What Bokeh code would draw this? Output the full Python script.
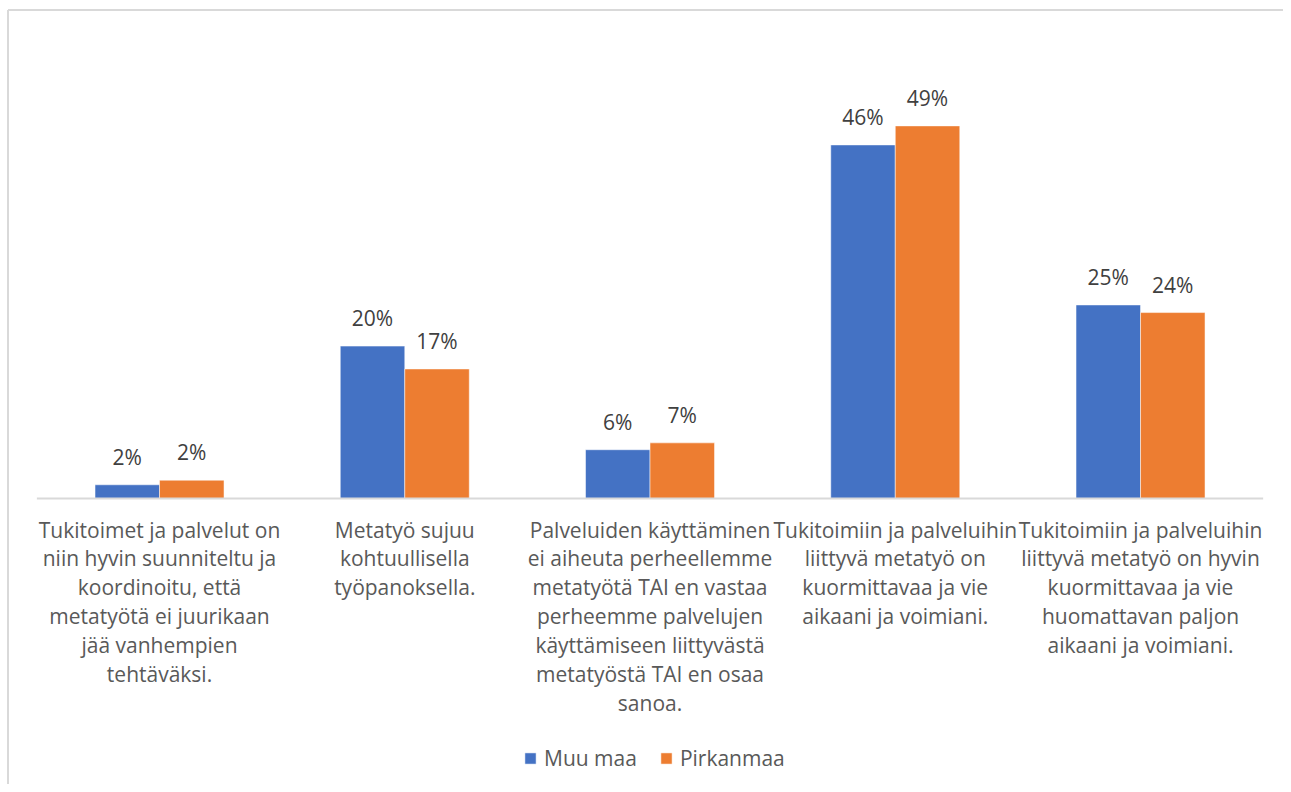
import numpy as np
from bokeh.plotting import figure
from bokeh.models import ColumnDataSource, Range1d, Legend, LegendItem
from bokeh.core.properties import value
from bokeh.embed import file_html
from bokeh.resources import INLINE

categories = [
    "Tukitoimet ja palvelut on\nniin hyvin suunniteltu ja\nkoordinoitu, että\nmetatyötä ei juurikaan\njää vanhempien\ntehtäväksi.",
    "Metatyö sujuu\nkohtuullisella\ntyöpanoksella.",
    "Palveluiden käyttäminen\nei aiheuta perheellemme\nmetatyötä TAI en vastaa\nperheemme palvelujen\nkäyttämiseen liittyvästä\nmetatyöstä TAI en osaa\nsanoa.",
    "Tukitoimiin ja palveluihin\nliittyvä metatyö on\nkuormittavaa ja vie\naikaani ja voimiani.",
    "Tukitoimiin ja palveluihin\nliittyvä metatyö on hyvin\nkuormittavaa ja vie\nhuomattavan paljon\naikaani ja voimiani.",
]
series_names = ["Muu maa", "Pirkanmaa"]
muu_maa = [1.8, 20.0, 6.4, 46.4, 25.4]
pirkanmaa = [2.4, 17.0, 7.3, 48.9, 24.4]

BLUE = "#4472C4"
ORANGE = "#ED7D31"
W, H = 1283, 784
CAT_PX = 245.25        # pixel width of one category
LEFT_PX = 36.4         # pixel offset of first category
PX_PER_PCT = 7.62
BASE_PX = 498          # baseline from top

FONT = "Open Sans"

xr = Range1d(-LEFT_PX / CAT_PX, (W - LEFT_PX) / CAT_PX)
yr = Range1d(-(H - BASE_PX) / PX_PER_PCT, BASE_PX / PX_PER_PCT)

p = figure(width=W, height=H, x_range=xr, y_range=yr, output_backend="svg",
           toolbar_location=None, min_border=0, outline_line_color=None,
           background_fill_color="white", border_fill_color="white")
p.xaxis.visible = False
p.yaxis.visible = False
p.xgrid.visible = False
p.ygrid.visible = False

idx = np.arange(len(categories))
bar_w = 64.5 / CAT_PX
off = bar_w / 2

src = ColumnDataSource(dict(
    xc=idx + 0.5,
    xb=idx + 0.5 - off,
    xo=idx + 0.5 + off,
    muu=muu_maa,
    pirk=pirkanmaa,
    muu_lbl=[f"{round(v)}%" for v in muu_maa],
    pirk_lbl=[f"{round(v)}%" for v in pirkanmaa],
    cat=categories,
))

r1 = p.vbar(x="xb", top="muu", width=bar_w, bottom=0, source=src,
            fill_color=BLUE, line_color="white", line_width=0.5)
r2 = p.vbar(x="xo", top="pirk", width=bar_w, bottom=0, source=src,
            fill_color=ORANGE, line_color="white", line_width=0.5)

# baseline (category axis line)
p.segment(x0=[0], x1=[len(categories)], y0=[0], y1=[0], line_color="#d9d9d9", line_width=2)

# data labels
for xcol, ycol, lcol in (("xb", "muu", "muu_lbl"), ("xo", "pirk", "pirk_lbl")):
    p.text(x=xcol, y=ycol, text=lcol, source=src, text_align="center",
           text_baseline="alphabetic", y_offset=-28, text_font=value(FONT),
           text_font_size="21px", text_color="#404040")

# category labels
p.text(x="xc", y=0, text="cat", source=src, text_align="center",
       text_baseline="top", y_offset=17, text_font=value(FONT),
       text_font_size="21px", text_color="#595959", text_line_height=1.035)

# chart border (left and top edges of the chart area)
bx = (7.5 - LEFT_PX) / CAT_PX
by = (BASE_PX - 9.5) / PX_PER_PCT
p.segment(x0=[bx, bx], y0=[by, by], x1=[bx, xr.end], y1=[yr.start, by],
          line_color="#d9d9d9", line_width=2)

legend = Legend(items=[LegendItem(label=series_names[0], renderers=[r1]),
                       LegendItem(label=series_names[1], renderers=[r2])],
                location=(523, 12), orientation="horizontal",
                glyph_width=14, glyph_height=14, label_standoff=7, spacing=22,
                padding=0, margin=0, border_line_color=None, background_fill_alpha=0,
                label_text_font=FONT, label_text_font_size="21px", label_text_color="#595959")
p.add_layout(legend, "center")

open("out.html", "w").write(file_html(p, INLINE))
